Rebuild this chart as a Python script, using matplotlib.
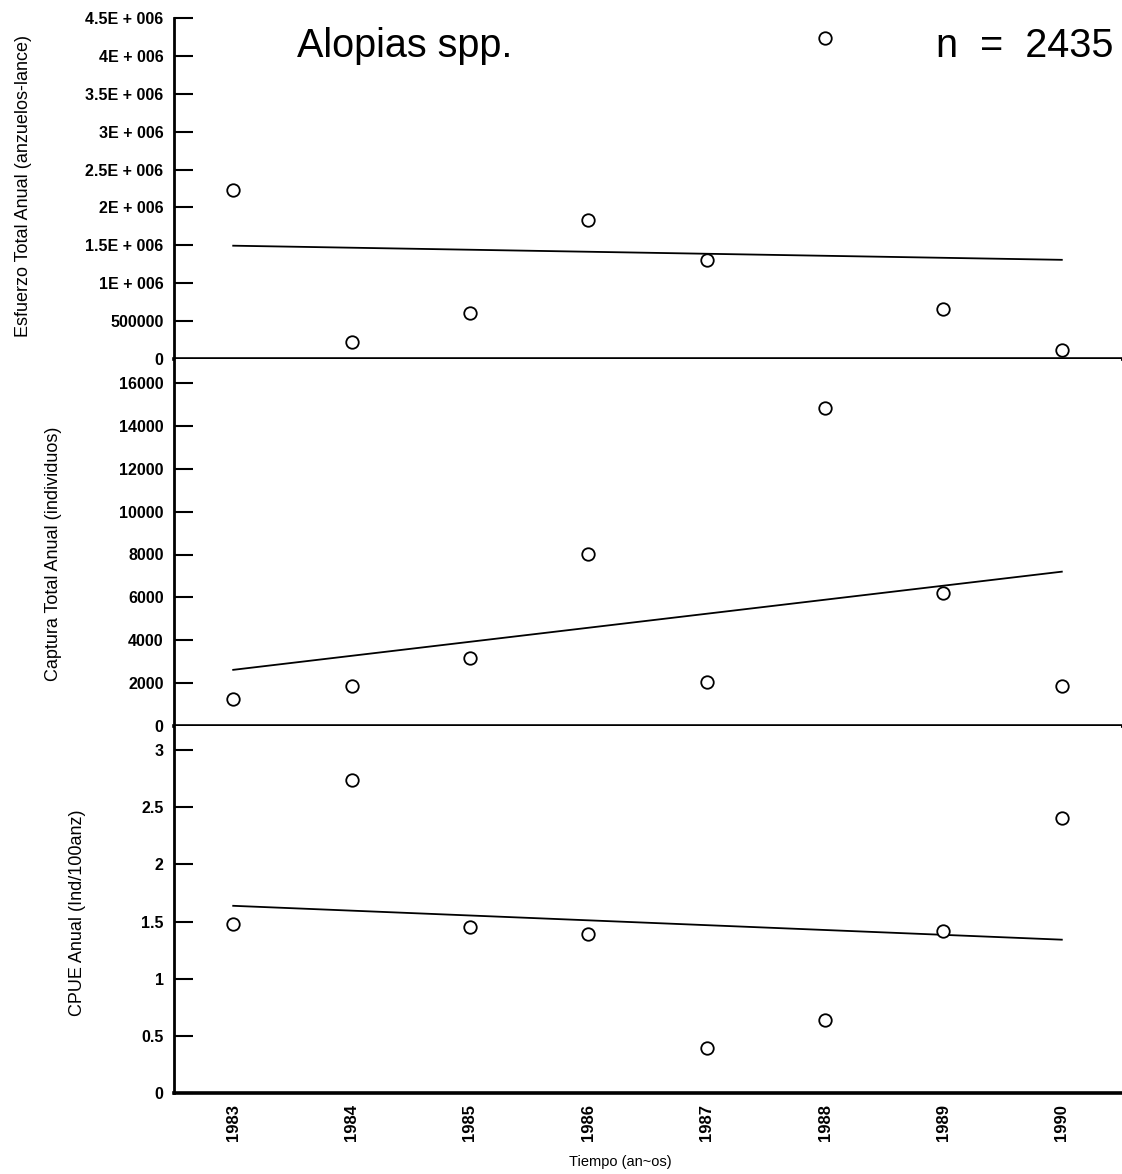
import numpy as np
import matplotlib
matplotlib.use("Agg")
import matplotlib.pyplot as plt

plt.rcParams['font.family'] = ['Liberation Sans', 'DejaVu Sans']

years = [1983, 1984, 1985, 1986, 1987, 1988, 1989, 1990]
esfuerzo = [2.23e6, 0.224e6, 0.607e6, 1.834e6, 1.306e6, 4.236e6, 0.66e6, 0.119e6]
captura = [1259, 1866, 3172, 8023, 2052, 14834, 6204, 1866]
cpue = [1.478, 2.738, 1.452, 1.391, 0.394, 0.638, 1.417, 2.405]

esf_ticks = [0, 500000, 1e6, 1.5e6, 2e6, 2.5e6, 3e6, 3.5e6, 4e6, 4.5e6]
esf_labels = ['0', '500000', '1E + 006', '1.5E + 006', '2E + 006', '2.5E + 006',
              '3E + 006', '3.5E + 006', '4E + 006', '4.5E + 006']
cap_ticks = [0, 2000, 4000, 6000, 8000, 10000, 12000, 14000, 16000]
cap_labels = [str(t) for t in cap_ticks]
cpue_ticks = [0, 0.5, 1, 1.5, 2, 2.5, 3]
cpue_labels = ['0', '0.5', '1', '1.5', '2', '2.5', '3']

W, H = 1122, 1174
fig = plt.figure(figsize=(W / 100, H / 100), dpi=100)

left = 174 / W
width = (1121 - 174) / W


def frac(y):
    return 1 - y / H


panels = [
    # (top px, bottom px, values, ticks, labels, y-limit top, ylabel, label x px, label y px)
    (18, 359, esfuerzo, esf_ticks, esf_labels, 4.5e6,
     'Esfuerzo Total Anual (anzuelos-lance)', 24, 186),
    (359, 726, captura, cap_ticks, cap_labels, 16000 * 367 / 343,
     'Captura Total Anual (individuos)', 54, 554),
    (726, 1093, cpue, cpue_ticks, cpue_labels, 3 * 367 / 343,
     'CPUE Anual (Ind/100anz)', 77, 913),
]

x = np.array(years, dtype=float)
axes = []
for top, bot, vals, ticks, labels, ytop, ylabel, lx, ly in panels:
    ax = fig.add_axes([left, frac(bot), width, frac(top) - frac(bot)])
    axes.append(ax)
    v = np.array(vals, dtype=float)
    ax.plot(x, v, linestyle='none', marker='o', markersize=9,
            markerfacecolor='white', markeredgecolor='black',
            markeredgewidth=1.3, zorder=3)
    slope, icpt = np.polyfit(x, v, 1)
    ax.plot([x[0], x[-1]], [icpt + slope * x[0], icpt + slope * x[-1]],
            color='black', linewidth=1.3, zorder=2)
    ax.set_xlim(1982.5, 1990.5)
    ax.set_ylim(0, ytop)
    ax.set_yticks(ticks)
    ax.set_yticklabels(labels, fontsize=11.5, fontweight='bold')
    ax.tick_params(axis='y', direction='in', length=14, width=1.5, pad=7.5)
    for s in ('top', 'right'):
        ax.spines[s].set_visible(False)
    ax.spines['left'].set_linewidth(2)
    ax.spines['bottom'].set_linewidth(2.6)
    ax.set_xticks(years)
    ax.tick_params(axis='x', length=0)
    fig.text(lx / W, frac(ly), ylabel, rotation=90,
             ha='center', va='center', fontsize=13)

for ax in axes[:-1]:
    ax.set_xticklabels([])
axes[-1].set_xticklabels([str(y) for y in years], rotation=90,
                         fontsize=12, fontweight='bold')
axes[-1].tick_params(axis='x', pad=8)

fig.text(620 / W, frac(1162), 'Tiempo (an~os)', ha='center', va='center',
         fontsize=10.5)
fig.text(297 / W, frac(46), 'Alopias spp.', ha='left', va='center',
         fontsize=28.5)
fig.text(1113 / W, frac(46), 'n  =  2435', ha='right', va='center',
         fontsize=28.5)

fig.savefig('out.png', dpi=100)
